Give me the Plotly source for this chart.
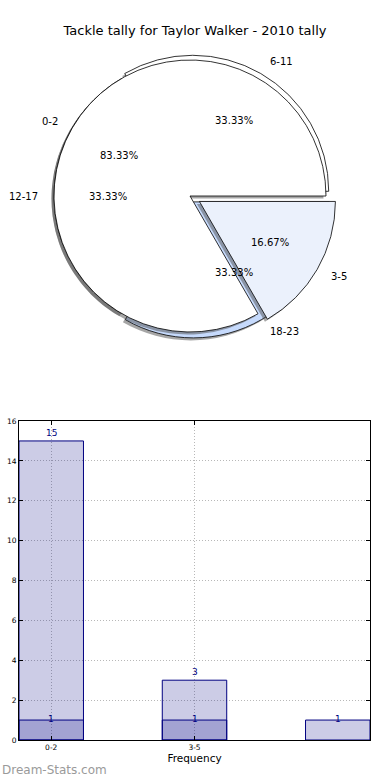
import math
import plotly.graph_objects as go

TITLE = "Tackle tally for Taylor Walker - 2010 tally"

# ---- pie data (two overlaid pies, as in the reference) ----
pie_a_labels = ["0-2", "3-5"]
pie_a_values = [15, 3]
pie_a_pull = [0.0, 0.08]
pie_a_colors = ["#ffffff", "#ebf1fc"]

pie_b_labels = ["6-11", "12-17", "18-23"]
pie_b_values = [1, 1, 1]
pie_b_pull = [0.04, 0.0, 0.05]
pie_b_colors = ["#ffffff", "#ffffff", "#c6dafc"]

# ---- bar data ----
bar_categories = ["0-2", "3-5", "6-11"]
bar_totals = [15, 3, 1]
bar_overlap = [1, 1, 0]
x_tick_labels = ["0-2", "3-5"]
y_tick_values = [0, 2, 4, 6, 8, 10, 12, 14, 16]

W, H = 390, 780
CX, CY, R = 190, 196, 136
SH_DX, SH_DY = -2.5, 2.5
FONT = "DejaVu Sans"
NAVY = "#000080"


def domain(cx, cy, pulls):
    half = R * (1 + max(pulls))
    return dict(x=[(cx - half) / W, (cx + half) / W],
                y=[1 - (cy + half) / H, 1 - (cy - half) / H])


def pie_trace(labels, values, pulls, colors, cx, cy, line_w):
    # clockwise from 3 o'clock with reversed order == counter-clockwise from 3 o'clock
    return go.Pie(labels=labels[::-1], values=values[::-1], pull=pulls[::-1],
                  marker=dict(colors=colors[::-1], line=dict(color="black", width=line_w)),
                  sort=False, direction="clockwise", rotation=90, textinfo="none",
                  hoverinfo="skip", showlegend=False, domain=domain(cx, cy, pulls))


def pie_texts(labels, values, pulls):
    total = sum(values)
    cum = 0
    anns = []
    for lab, v, p in zip(labels, values, pulls):
        mid = math.radians((cum + v / 2) / total * 360)
        cum += v
        c, s = math.cos(mid), math.sin(mid)
        ox, oy = CX + p * R * c, CY - p * R * s
        lx, ly = ox + 1.1 * R * c, oy - 1.1 * R * s
        anns.append(dict(text=lab, x=lx / W, y=1 - ly / H, xref="paper", yref="paper",
                         xanchor="left" if c > 0 else "right", yanchor="middle",
                         showarrow=False, font=dict(family=FONT, size=10, color="black")))
        px, py = ox + 0.6 * R * c, oy - 0.6 * R * s
        anns.append(dict(text=f"{100 * v / total:.2f}%", x=px / W, y=1 - py / H,
                         xref="paper", yref="paper", xanchor="center", yanchor="middle",
                         showarrow=False, font=dict(family=FONT, size=10, color="black")))
    return anns


fig = go.Figure()
grey = "rgba(77,77,77,0.5)"
fig.add_trace(pie_trace(pie_b_labels, pie_b_values, pie_b_pull, [grey] * len(pie_b_values),
                        CX + SH_DX, CY + SH_DY, 0))
fig.add_trace(pie_trace(pie_b_labels, pie_b_values, pie_b_pull, pie_b_colors, CX, CY, 0.8))
fig.add_trace(pie_trace(pie_a_labels, pie_a_values, pie_a_pull, [grey] * len(pie_a_values),
                        CX + SH_DX, CY + SH_DY, 0))
fig.add_trace(pie_trace(pie_a_labels, pie_a_values, pie_a_pull, pie_a_colors, CX, CY, 0.8))

annotations = pie_texts(pie_b_labels, pie_b_values, pie_b_pull) + \
    pie_texts(pie_a_labels, pie_a_values, pie_a_pull)

# ---- bars ----
bar_x = list(range(len(bar_categories)))
bar_marker = dict(color="rgba(0,0,128,0.2)", line=dict(color=NAVY, width=1))
fig.add_trace(go.Bar(x=bar_x, y=bar_totals, width=0.45, marker=bar_marker,
                     hoverinfo="skip", showlegend=False, xaxis="x", yaxis="y"))
ov_x = [i for i, v in zip(bar_x, bar_overlap) if v > 0]
ov_y = [v for v in bar_overlap if v > 0]
fig.add_trace(go.Bar(x=ov_x, y=ov_y, width=0.45, marker=bar_marker,
                     hoverinfo="skip", showlegend=False, xaxis="x", yaxis="y"))

for xs, ys in ((bar_x, bar_totals), (ov_x, ov_y)):
    for xv, yv in zip(xs, ys):
        annotations.append(dict(text=str(yv), x=xv, y=yv, xref="x", yref="y",
                                xanchor="center",
                                yanchor="bottom" if yv > 1 else "middle",
                                yshift=1,
                                showarrow=False,
                                font=dict(family=FONT, size=9, color=NAVY)))

annotations.append(dict(text="Dream-Stats.com", x=0, y=1 - 770 / H, xref="paper", yref="paper",
                        xanchor="left", yanchor="middle", showarrow=False,
                        font=dict(family=FONT, size=12, color="#9a9a9a")))

axis_common = dict(showgrid=True, gridcolor="#b8b8b8", griddash="1px,2px", gridwidth=1,
                   showline=True, linecolor="black", linewidth=1, mirror="ticks",
                   ticks="inside", ticklen=4, tickcolor="black", zeroline=False,
                   automargin=False,
                   tickfont=dict(family=FONT, size=7.5, color="black"))

fig.update_layout(
    template="none",
    width=W, height=H,
    margin=dict(l=0, r=0, t=0, b=0, autoexpand=False),
    paper_bgcolor="white", plot_bgcolor="white",
    font=dict(family=FONT, color="black"),
    title=dict(text=TITLE, x=0.5, xanchor="center", xref="container",
               y=1 - 30 / H, yanchor="middle", yref="container",
               font=dict(family=FONT, size=13, color="black")),
    barmode="overlay",
    xaxis=dict(domain=[19 / W, 370 / W], anchor="y", range=[-0.225, 2.225],
               tickvals=list(range(len(x_tick_labels))), ticktext=x_tick_labels,
               title=dict(text="Frequency", font=dict(family=FONT, size=10.5, color="black"),
                          standoff=3),
               **axis_common),
    yaxis=dict(domain=[1 - 740 / H, 1 - 421 / H], anchor="x", range=[0, 16],
               tickvals=y_tick_values, **axis_common),
    annotations=annotations,
)

fig.write_html("out.html", config={"displayModeBar": False},
               post_script="document.body.style.margin='0';document.body.style.padding='0';")
